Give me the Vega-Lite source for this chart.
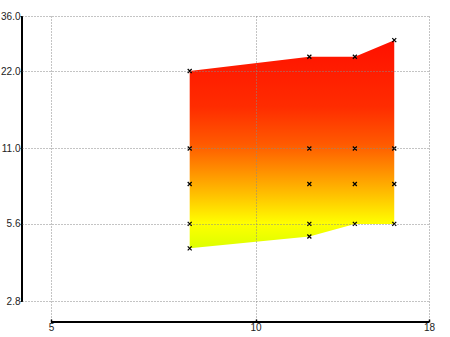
{
  "$schema": "https://vega.github.io/schema/vega-lite/v6.json",
  "width": 407,
  "height": 306,
  "autosize": "none",
  "padding": {"left": 22, "top": 16, "right": 21, "bottom": 15},
  "background": "white",
  "config": {"view": {"stroke": null}, "font": "Liberation Sans"},
  "data": {
    "values": [
      {"x": 8, "y": 4.5}, {"x": 8, "y": 5.6}, {"x": 8, "y": 8}, {"x": 8, "y": 11}, {"x": 8, "y": 22},
      {"x": 12, "y": 5.0}, {"x": 12, "y": 5.6}, {"x": 12, "y": 8}, {"x": 12, "y": 11}, {"x": 12, "y": 25},
      {"x": 14, "y": 5.6}, {"x": 14, "y": 8}, {"x": 14, "y": 11}, {"x": 14, "y": 25},
      {"x": 16, "y": 5.6}, {"x": 16, "y": 8}, {"x": 16, "y": 11}, {"x": 16, "y": 29}
    ]
  },
  "layer": [
    {
      "transform": [
        {"aggregate": [{"op": "min", "field": "y", "as": "lo"}, {"op": "max", "field": "y", "as": "hi"}], "groupby": ["x"]}
      ],
      "mark": {
        "type": "area",
        "interpolate": "linear",
        "fill": {
          "gradient": "linear",
          "x1": 0, "y1": 1, "x2": 0, "y2": 0,
          "stops": [
            {"offset": 0, "color": "#dcff00"},
            {"offset": 0.12, "color": "#ffff00"},
            {"offset": 0.25, "color": "#ffc400"},
            {"offset": 0.38, "color": "#ff8c00"},
            {"offset": 0.5, "color": "#ff5a00"},
            {"offset": 0.68, "color": "#ff2c00"},
            {"offset": 1, "color": "#ff1000"}
          ]
        }
      },
      "encoding": {
        "x": {
          "field": "x", "type": "quantitative",
          "scale": {"type": "log", "domain": [4.532, 18], "nice": false, "zero": false},
          "axis": {
            "values": [5, 10, 18], "title": null, "domain": false,
            "grid": true, "gridColor": "#888", "gridDash": [1, 2], "gridWidth": 1,
            "ticks": true, "tickSize": -3, "tickColor": "#000", "tickWidth": 1.5,
            "labelFontSize": 10, "labelColor": "#222", "labelPadding": 3, "labelFlush": false,
            "labelOverlap": false, "format": "d", "zindex": 1
          }
        },
        "y": {
          "field": "lo", "type": "quantitative",
          "scale": {"type": "log", "domain": [2.327, 36], "nice": false, "zero": false},
          "axis": {
            "values": [2.8, 5.6, 11, 22, 36], "title": null, "domain": false,
            "grid": true, "gridColor": "#888", "gridDash": [1, 2], "gridWidth": 1,
            "ticks": true, "tickSize": 2, "tickColor": "#000", "tickWidth": 1,
            "labelFontSize": 10, "labelColor": "#222", "labelPadding": 0, "labelFlush": false,
            "labelOverlap": false, "format": ".1f", "zindex": 1
          }
        },
        "y2": {"field": "hi"}
      }
    },
    {
      "mark": {"type": "point", "shape": "M-1,-1L1,1M-1,1L1,-1", "filled": false, "stroke": "#000", "strokeWidth": 1.2, "size": 16, "opacity": 1},
      "encoding": {
        "x": {"field": "x", "type": "quantitative"},
        "y": {"field": "y", "type": "quantitative"}
      }
    },
    {
      "mark": {"type": "rule", "color": "#000", "strokeWidth": 2},
      "encoding": {
        "x": {"datum": 4.532, "type": "quantitative"},
        "y": {"datum": 2.8, "type": "quantitative"},
        "y2": {"datum": 36}
      }
    },
    {
      "mark": {"type": "rule", "color": "#000", "strokeWidth": 2},
      "encoding": {
        "y": {"datum": 2.327, "type": "quantitative"},
        "x": {"datum": 5, "type": "quantitative"},
        "x2": {"datum": 18}
      }
    }
  ]
}
